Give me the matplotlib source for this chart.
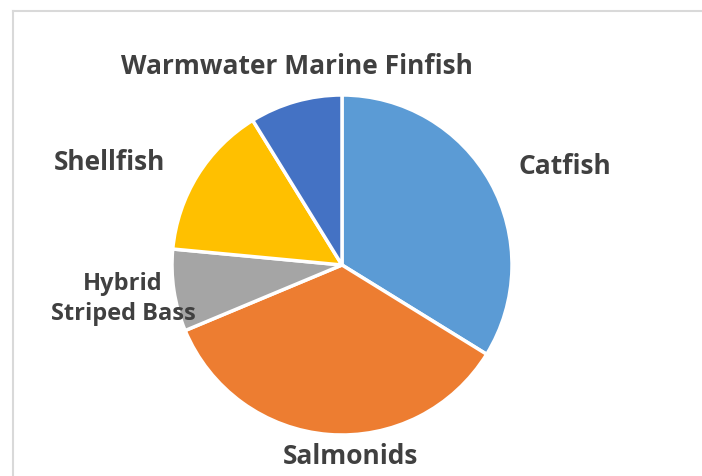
import matplotlib.pyplot as plt
from matplotlib.lines import Line2D

categories = ["Catfish", "Salmonids", "Hybrid\nStriped Bass", "Shellfish", "Warmwater Marine Finfish"]
values = [33.8, 34.9, 7.8, 14.7, 8.8]
colors = ["#5B9BD5", "#ED7D31", "#A5A5A5", "#FFC000", "#4472C4"]

W, H = 702, 476
fig = plt.figure(figsize=(W / 100, H / 100), dpi=100)

# light chart frame (left and top edges visible)
fig.add_artist(Line2D([13 / W, 13 / W], [0, 1 - 11 / H], color="#D9D9D9", lw=1.5))
fig.add_artist(Line2D([13 / W, 1], [1 - 11 / H, 1 - 11 / H], color="#D9D9D9", lw=1.5))

cx, cy, r = 342, 265, 170
ax = fig.add_axes([(cx - r) / W, (H - cy - r) / H, 2 * r / W, 2 * r / H])
ax.pie(values, colors=colors, startangle=90, counterclock=False, radius=1,
       wedgeprops=dict(edgecolor="white", linewidth=2.5))
ax.set_xlim(-1, 1)
ax.set_ylim(-1, 1)
ax.set_aspect("equal")
ax.axis("off")

label_pos = [(565, 167), (350, 457), (123, 299), (110, 162), (297, 67)]
label_size = [19, 19, 17, 19, 19]
for name, (x, y), fs in zip(categories, label_pos, label_size):
    fig.text(x / W, 1 - y / H, name, ha="center", va="center", fontsize=fs,
             fontweight="bold", color="#404040", family="Open Sans", linespacing=1.3)

fig.savefig("out.png", dpi=100)
